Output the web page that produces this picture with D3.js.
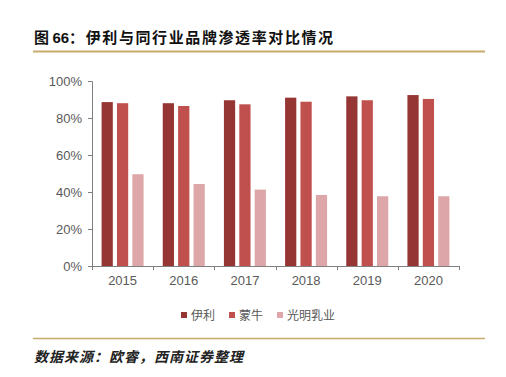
<!DOCTYPE html>
<html>
<head>
<meta charset="utf-8">
<script src="https://cdn.jsdelivr.net/npm/d3@7"></script>
<style>
  body { margin: 0; background: #fff; }
  svg { display: block; font-family: "Liberation Sans", Arial, "Noto Sans CJK SC", sans-serif; }
</style>
</head>
<body>
<div id="chart"></div>
<script>
// Data
const years = ["2015", "2016", "2017", "2018", "2019", "2020"];
const seriesNames = ["伊利", "蒙牛", "光明乳业"];
const yili = [0.886, 0.880, 0.896, 0.910, 0.917, 0.924];
const mengniu = [0.880, 0.865, 0.874, 0.888, 0.896, 0.903];
const guangming = [0.496, 0.443, 0.413, 0.384, 0.377, 0.377];
const yTicks = [0, 0.2, 0.4, 0.6, 0.8, 1.0];
const colors = ["#963634", "#C0504D", "#DDA6A8"];

const W = 506, H = 377;
const margin = { top: 81, left: 92, right: 47, bottom: 111 };
const width = W - margin.left - margin.right;
const height = H - margin.top - margin.bottom;

const svg = d3.select("#chart").append("svg")
    .attr("width", W)
    .attr("height", H);

// Title + gold rules
const title = svg.append("text")
    .attr("x", 34).attr("y", 43)
    .style("font-family", "'Noto Sans CJK SC', sans-serif")
    .style("font-weight", "bold")
    .style("font-size", "15px")
    .style("fill", "#111");
title.append("tspan").text("图 ");
title.append("tspan").style("font-family", "'Liberation Sans', Arial, sans-serif").text("66");
title.append("tspan").style("letter-spacing", "1.6px").text("：伊利与同行业品牌渗透率对比情况");

svg.append("line")
    .attr("x1", 33).attr("x2", 485)
    .attr("y1", 51.5).attr("y2", 51.5)
    .attr("stroke", "#C8A96E").attr("stroke-width", 2);

svg.append("line")
    .attr("x1", 33).attr("x2", 485)
    .attr("y1", 338.5).attr("y2", 338.5)
    .attr("stroke", "#C8A96E").attr("stroke-width", 1.5);

svg.append("text")
    .attr("x", 34).attr("y", 362)
    .style("font-family", "'Noto Sans CJK SC', sans-serif")
    .style("font-style", "italic")
    .style("font-weight", "bold")
    .style("font-size", "14px")
    .style("letter-spacing", "1px")
    .style("fill", "#222")
    .text("数据来源：欧睿，西南证券整理");

const g = svg.append("g")
    .attr("transform", `translate(${margin.left},${margin.top})`);

const x0 = d3.scaleBand().domain(years).range([0, width]).paddingInner(0).paddingOuter(0);
const x1 = d3.scaleBand().domain(seriesNames).range([0, 42]).paddingInner(0.27);

const y = d3.scaleLinear().domain([0, 1]).range([height, 0]);

const table = years.map((yr, i) => ({
    year: yr,
    values: [yili[i], mengniu[i], guangming[i]]
}));

const groups = g.selectAll(".grp")
    .data(table)
    .enter().append("g")
    .attr("transform", d => `translate(${x0(d.year) + (x0.bandwidth() - 42) / 2},0)`);

groups.selectAll("rect")
    .data(d => d.values.map((v, k) => ({ name: seriesNames[k], v, k })))
    .enter().append("rect")
    .attr("x", d => x1(d.name))
    .attr("y", d => y(d.v))
    .attr("width", x1.bandwidth())
    .attr("height", d => height - y(d.v))
    .attr("fill", d => colors[d.k]);

// Axes
const yAxis = d3.axisLeft(y)
    .tickValues(yTicks)
    .tickFormat(d3.format(".0%"))
    .tickSize(4)
    .tickPadding(6);

const ya = g.append("g").call(yAxis);
ya.select(".domain").attr("stroke", "#7f7f7f").attr("d", `M-4,0.5H0.5V${height}`);
ya.selectAll(".tick line").attr("stroke", "#7f7f7f");
ya.selectAll(".tick text").style("font-size", "13px").style("fill", "#595959");

const xAxis = d3.axisBottom(x0).tickSize(0).tickPadding(10);
const xa = g.append("g").attr("transform", `translate(0,${height})`).call(xAxis);
xa.select(".domain").attr("stroke", "#7f7f7f");
xa.selectAll(".tick text").style("font-size", "13px").style("fill", "#595959");

// category separator ticks
g.append("g").selectAll("line")
    .data(d3.range(years.length + 1))
    .enter().append("line")
    .attr("x1", d => Math.round(d * x0.step()) + 0.5)
    .attr("x2", d => Math.round(d * x0.step()) + 0.5)
    .attr("y1", height).attr("y2", height + 4)
    .attr("stroke", "#7f7f7f");

// Legend
const legendX = [181, 229, 277];
const legend = svg.append("g").attr("transform", "translate(0,316)");
const items = legend.selectAll("g")
    .data(seriesNames)
    .enter().append("g")
    .attr("transform", (d, i) => `translate(${legendX[i]},0)`);

items.append("rect")
    .attr("x", 0).attr("y", -4)
    .attr("width", 6).attr("height", 6)
    .attr("fill", (d, i) => colors[i]);

items.append("text")
    .attr("x", 10).attr("y", 4)
    .style("font-family", "'Noto Sans CJK SC', sans-serif")
    .style("font-size", "12px")
    .style("fill", "#595959")
    .text(d => d);
</script>
</body>
</html>
